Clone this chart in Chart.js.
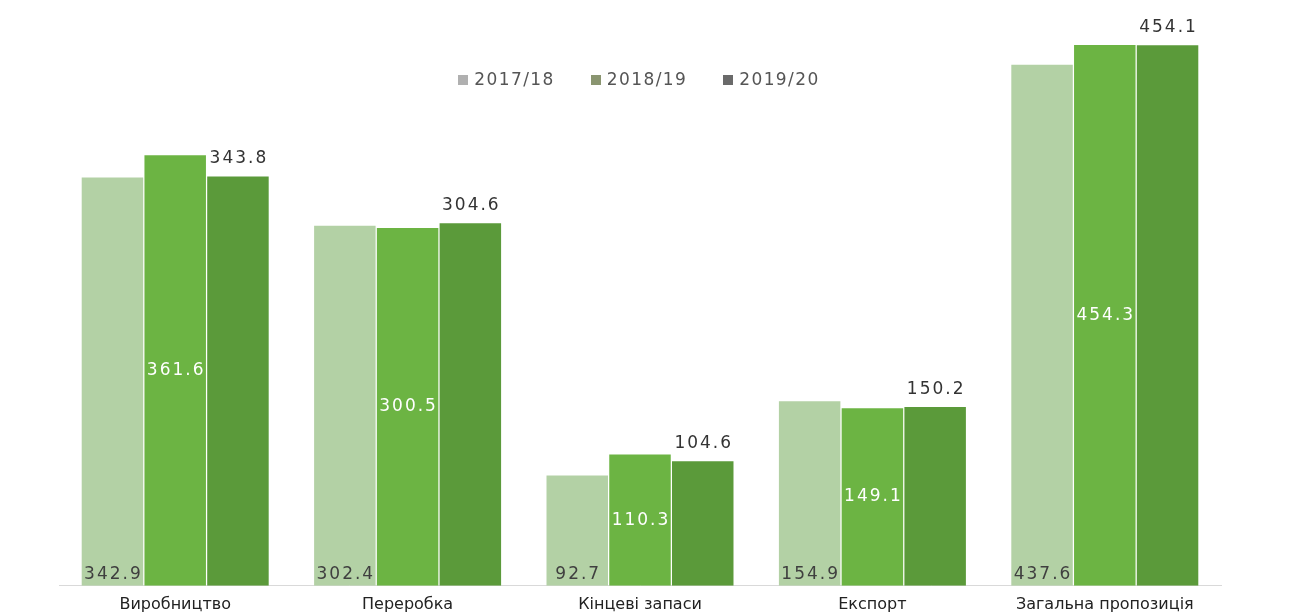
<!DOCTYPE html>
<html>
<head>
<meta charset="utf-8">
<script src="https://cdn.jsdelivr.net/npm/chart.js@4.4.1/dist/chart.umd.min.js"></script>
<style>
  html, body { margin: 0; padding: 0; background: #fff; }
  #wrap { position: relative; width: 1302px; height: 612px; }
  #legend { position: absolute; top: 69px; left: 0; width: 1278px; text-align: center;
    font-family: "DejaVu Sans", sans-serif; font-size: 17px; letter-spacing: 1.4px; color: #555; }
  #legend span.item { margin: 0 18px; }
  #legend i { display: inline-block; width: 10px; height: 10px; margin-right: 6px; vertical-align: 0px; }
</style>
</head>
<body>
<div id="wrap">
  <canvas id="chart" width="1302" height="612"></canvas>
  <div id="legend"></div>
</div>
<script>
const categories = ['Виробництво', 'Переробка', 'Кінцеві запаси', 'Експорт', 'Загальна пропозиція'];
const seriesNames = ['2017/18', '2018/19', '2019/20'];
const values1718 = [342.9, 302.4, 92.7, 154.9, 437.6];
const values1819 = [361.6, 300.5, 110.3, 149.1, 454.3];
const values1920 = [343.8, 304.6, 104.6, 150.2, 454.1];

const barColors = ['#b3d1a5', '#6cb443', '#5b9a3a'];
const legendColors = ['#b0b0b0', '#8a9570', '#6a6a6a'];
// where each series puts its value label
const labelPlace = ['base', 'center', 'top'];
const labelColors = ['#3f3f3f', '#ffffff', '#333333'];

const fontFam = '"DejaVu Sans", sans-serif';

// legend
document.getElementById('legend').innerHTML = seriesNames.map((n, i) =>
  '<span class="item"><i style="background:' + legendColors[i] + '"></i>' + n + '</span>').join('');

const valueLabels = {
  id: 'valueLabels',
  afterDatasetsDraw(chart) {
    const ctx = chart.ctx;
    ctx.save();
    ctx.font = '17px ' + fontFam;
    ctx.letterSpacing = '2px';
    ctx.textAlign = 'center';
    chart.data.datasets.forEach((ds, di) => {
      const meta = chart.getDatasetMeta(di);
      meta.data.forEach((bar, i) => {
        const v = ds.data[i];
        let y;
        if (labelPlace[di] === 'base') {
          ctx.textBaseline = 'bottom';
          y = bar.base - 3;
        } else if (labelPlace[di] === 'center') {
          ctx.textBaseline = 'middle';
          y = (bar.y + bar.base) / 2;
        } else {
          ctx.textBaseline = 'bottom';
          y = bar.y - 9;
        }
        ctx.fillStyle = labelColors[di];
        ctx.fillText(v.toFixed(1), bar.x + 1, y);
      });
    });
    ctx.restore();
  }
};

const datasets = [values1718, values1819, values1920].map((d, i) => ({
  label: seriesNames[i],
  data: d,
  backgroundColor: barColors[i],
  borderWidth: 0,
  barPercentage: 0.98,
  categoryPercentage: 0.81
}));

new Chart(document.getElementById('chart'), {
  type: 'bar',
  data: { labels: categories, datasets: datasets },
  options: {
    responsive: false,
    animation: false,
    layout: { padding: { left: 59, right: 81, top: 0, bottom: -3 } },
    scales: {
      x: {
        grid: { display: false },
        border: { color: '#d9d9d9', width: 1 },
        ticks: { color: '#222', font: { family: fontFam, size: 16 }, padding: 1, maxRotation: 0 }
      },
      y: {
        display: false,
        min: 0,
        max: 492
      }
    },
    plugins: {
      legend: { display: false },
      tooltip: { enabled: false }
    }
  },
  plugins: [valueLabels]
});
</script>
</body>
</html>
